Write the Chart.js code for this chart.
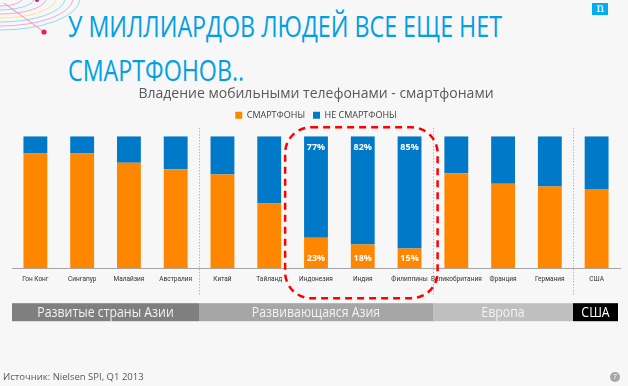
<!DOCTYPE html>
<html lang="ru">
<head>
<meta charset="utf-8">
<title>Смартфоны</title>
<script src="https://cdn.jsdelivr.net/npm/chart.js@4.4.1/dist/chart.umd.min.js"></script>
<style>
    html, body {
        margin: 0;
        padding: 0;
    }
    body {
        width: 628px;
        height: 386px;
        background: #f7f7f7;
        position: relative;
        overflow: hidden;
        font-family: "Open Sans", sans-serif;
    }
    #decoracion {
        position: absolute;
        left: 0;
        top: 0;
    }
    #titulo {
        position: absolute;
        left: 68px;
        top: 4px;
        margin: 0;
        font-family: "Open Sans", sans-serif;
        font-weight: normal;
        font-size: 30px;
        line-height: 44px;
        color: #00a0e3;
        white-space: nowrap;
        transform-origin: left top;
    }
    #titulo span {
        display: inline-block;
    }
    #logo {
        position: absolute;
        left: 592px;
        top: 3px;
        width: 16px;
        height: 12px;
        background: #00aeef;
        color: #ffffff;
        font-family: "DejaVu Serif", serif;
        font-size: 12px;
        line-height: 11px;
        text-align: center;
    }
    #lienzo {
        position: absolute;
        left: 0;
        top: 0;
    }
    #fuente {
        position: absolute;
        left: 3px;
        top: 370px;
        font-size: 9.5px;
        color: #595959;
    }
    #pagina {
        position: absolute;
        left: 610px;
        top: 372px;
        width: 10px;
        height: 10px;
        border-radius: 50%;
        background: #a6a6a6;
        color: #ffffff;
        font-size: 7px;
        line-height: 10px;
        text-align: center;
    }
</style>
</head>
<body>
<svg id="decoracion" width="110" height="50" viewBox="0 0 110 50">
    <path d="M0 6 A22 8 0 0 0 22 0" stroke="#f7a6d6" fill="none" stroke-width="1"/>
    <path d="M0 10 A34 12 0 0 0 34 0" stroke="#8fdcf2" fill="none" stroke-width="1"/>
    <path d="M0 14 A46 16 0 0 0 46 0" stroke="#f7a6d6" fill="none" stroke-width="1"/>
    <path d="M0 18 A56 20 0 0 0 56 0" stroke="#ffe58a" fill="none" stroke-width="1"/>
    <path d="M0 22 A65 24 0 0 0 65 0" stroke="#8fdcf2" fill="none" stroke-width="1"/>
    <path d="M0 26 A73 28 0 0 0 73 0" stroke="#f7a6d6" fill="none" stroke-width="1"/>
    <path d="M0 30 A80 32 0 0 0 80 0" stroke="#8fdcf2" fill="none" stroke-width="1"/>
    <line x1="4" y1="3" x2="44" y2="32" stroke="#f58bb8" stroke-width="1"/>
    <circle cx="44" cy="32" r="2.6" fill="#ee1c4e"/>
    <circle cx="37" cy="0" r="2" fill="#d4148c"/>
</svg>
<h1 id="titulo"><span id="lineaTitulo">У МИЛЛИАРДОВ ЛЮДЕЙ ВСЕ ЕЩЕ НЕТ</span><br><span>СМАРТФОНОВ..</span></h1>
<div id="logo">n</div>
<canvas id="lienzo" width="628" height="386"></canvas>
<div id="fuente">Источник: Nielsen SPI, Q1 2013</div>
<div id="pagina">7</div>

<script>
const paises = ["Гон Конг", "Сингапур", "Малайзия", "Австралия", "Китай", "Тайланд",
    "Индонезия", "Индия", "Филиппины", "Великобритания", "Франция", "Германия", "США"];
const smartfonos   = [87, 87, 80, 75, 71, 49, 23, 18, 15, 72, 64, 62, 60];
const noSmartfonos = [13, 13, 20, 25, 29, 51, 77, 82, 85, 28, 36, 38, 40];
const seriesNombres = ["СМАРТФОНЫ", "НЕ СМАРТФОНЫ"];

// paises con porcentaje escrito encima
const paisesDestacados = [6, 7, 8];

const regiones = ["Развитые страны Азии", "Развивающаяся Азия", "Европа", "США"];
const paisesPorRegion = [4, 5, 3, 1];

const tituloGrafica = "Владение мобильными телефонами - смартфонами";

const coloresRegion = ["#7f7f7f", "#a6a6a6", "#bfbfbf", "#000000"];

// el titulo original es una fuente estrecha: se comprime a lo ancho
function ajustarTitulo() {
    const titulo = document.getElementById("titulo");
    const linea = document.getElementById("lineaTitulo");
    const ancho = linea.getBoundingClientRect().width;
    if (ancho > 0) titulo.style.transform = `scaleX(${434 / ancho})`;
}
ajustarTitulo();

function textoEstrecho(ctx, texto, cx, cy, escala) {
    ctx.save();
    ctx.translate(cx, cy);
    ctx.scale(escala, 1);
    ctx.fillText(texto, 0, 0);
    ctx.restore();
}

const pluginDecoracion = {
    id: "decoracion",
    afterDatasetsDraw(chart) {
        const { ctx, chartArea } = chart;
        const x = chart.scales.x;
        const anchoCat = x.getPixelForValue(1) - x.getPixelForValue(0);
        const metaSi = chart.getDatasetMeta(0);
        const metaNo = chart.getDatasetMeta(1);

        ctx.save();

        // porcentajes blancos en las barras destacadas
        ctx.fillStyle = "#ffffff";
        ctx.font = "bold 9px 'Open Sans', sans-serif";
        ctx.textAlign = "center";
        ctx.textBaseline = "middle";
        paisesDestacados.forEach(i => {
            const barraSi = metaSi.data[i];
            const barraNo = metaNo.data[i];
            ctx.fillText(smartfonos[i] + "%", barraSi.x, barraSi.base - 10);
            ctx.fillText(noSmartfonos[i] + "%", barraNo.x, barraNo.y + 11);
        });

        // limites entre regiones
        const limites = [];
        let acumulado = 0;
        paisesPorRegion.forEach(n => {
            acumulado += n;
            limites.push(acumulado);
        });

        ctx.strokeStyle = "#9a9a9a";
        ctx.lineWidth = 1;
        ctx.setLineDash([1, 2]);
        limites.slice(0, -1).forEach(k => {
            const px = Math.round((x.getPixelForValue(k - 1) + x.getPixelForValue(k)) / 2) + 0.5;
            ctx.beginPath();
            ctx.moveTo(px, chartArea.top - 8);
            ctx.lineTo(px, chartArea.bottom + 27);
            ctx.stroke();
        });

        // marco rojo discontinuo
        const izq = x.getPixelForValue(paisesDestacados[0]) - anchoCat * 0.66;
        const der = x.getPixelForValue(paisesDestacados[paisesDestacados.length - 1]) + anchoCat * 0.6;
        const arr = chartArea.top - 9;
        const aba = chartArea.bottom + 30;
        const r = 26;
        ctx.strokeStyle = "#ff0000";
        ctx.lineWidth = 2.5;
        ctx.setLineDash([7, 5]);
        ctx.beginPath();
        ctx.moveTo(izq + r, arr);
        ctx.arcTo(der, arr, der, aba, r);
        ctx.arcTo(der, aba, izq, aba, r);
        ctx.arcTo(izq, aba, izq, arr, r);
        ctx.arcTo(izq, arr, der, arr, r);
        ctx.closePath();
        ctx.stroke();
        ctx.setLineDash([]);

        // franja de regiones
        const franjaArriba = chartArea.bottom + 35;
        const franjaAlto = 18;
        let inicio = chartArea.left;
        ctx.font = "14px 'Open Sans', sans-serif";
        regiones.forEach((nombre, j) => {
            const k = limites[j];
            const fin = j === regiones.length - 1
                ? chartArea.right - 2
                : Math.round((x.getPixelForValue(k - 1) + x.getPixelForValue(k)) / 2);
            ctx.fillStyle = coloresRegion[j];
            ctx.fillRect(inicio, franjaArriba, fin - inicio, franjaAlto);
            ctx.fillStyle = j === regiones.length - 1 ? "#ffffff" : "#f2f2f2";
            textoEstrecho(ctx, nombre, (inicio + fin) / 2, franjaArriba + franjaAlto / 2 + 0.5, 0.88);
            inicio = fin;
        });

        ctx.restore();
    }
};

new Chart(document.getElementById("lienzo"), {
    type: "bar",
    data: {
        labels: paises,
        datasets: [
            {
                label: seriesNombres[0],
                data: smartfonos,
                backgroundColor: "#ff8700",
                borderWidth: 0
            },
            {
                label: seriesNombres[1],
                data: noSmartfonos,
                backgroundColor: "#0079c8",
                borderWidth: 0
            }
        ]
    },
    options: {
        responsive: false,
        animation: false,
        barPercentage: 0.51,
        categoryPercentage: 1,
        layout: {
            padding: { left: 12, right: 8, top: 0, bottom: 96 }
        },
        plugins: {
            title: {
                display: true,
                text: tituloGrafica,
                color: "#595959",
                font: { family: "'Open Sans', sans-serif", size: 14, weight: "normal", lineHeight: 1.2 },
                padding: { top: 86, bottom: 0 }
            },
            legend: {
                position: "top",
                labels: {
                    boxWidth: 7,
                    boxHeight: 7,
                    padding: 8,
                    color: "#404040",
                    font: { family: "'Open Sans', sans-serif", size: 9 }
                }
            },
            // espacio vacio entre la leyenda y las barras
            subtitle: {
                display: true,
                text: "",
                weight: 500,
                font: { size: 1, lineHeight: 1 },
                padding: { top: 5.5, bottom: 0 }
            },
            tooltip: { enabled: false }
        },
        scales: {
            x: {
                stacked: true,
                grid: { display: false, drawTicks: false },
                border: { color: "#a6a6a6", width: 1 },
                ticks: {
                    autoSkip: false,
                    maxRotation: 0,
                    padding: 7,
                    color: "#333333",
                    font: { family: "Roboto, sans-serif", size: 6.5 }
                }
            },
            y: {
                stacked: true,
                display: false,
                min: 0,
                max: 100
            }
        }
    },
    plugins: [pluginDecoracion]
});
</script>
</body>
</html>
